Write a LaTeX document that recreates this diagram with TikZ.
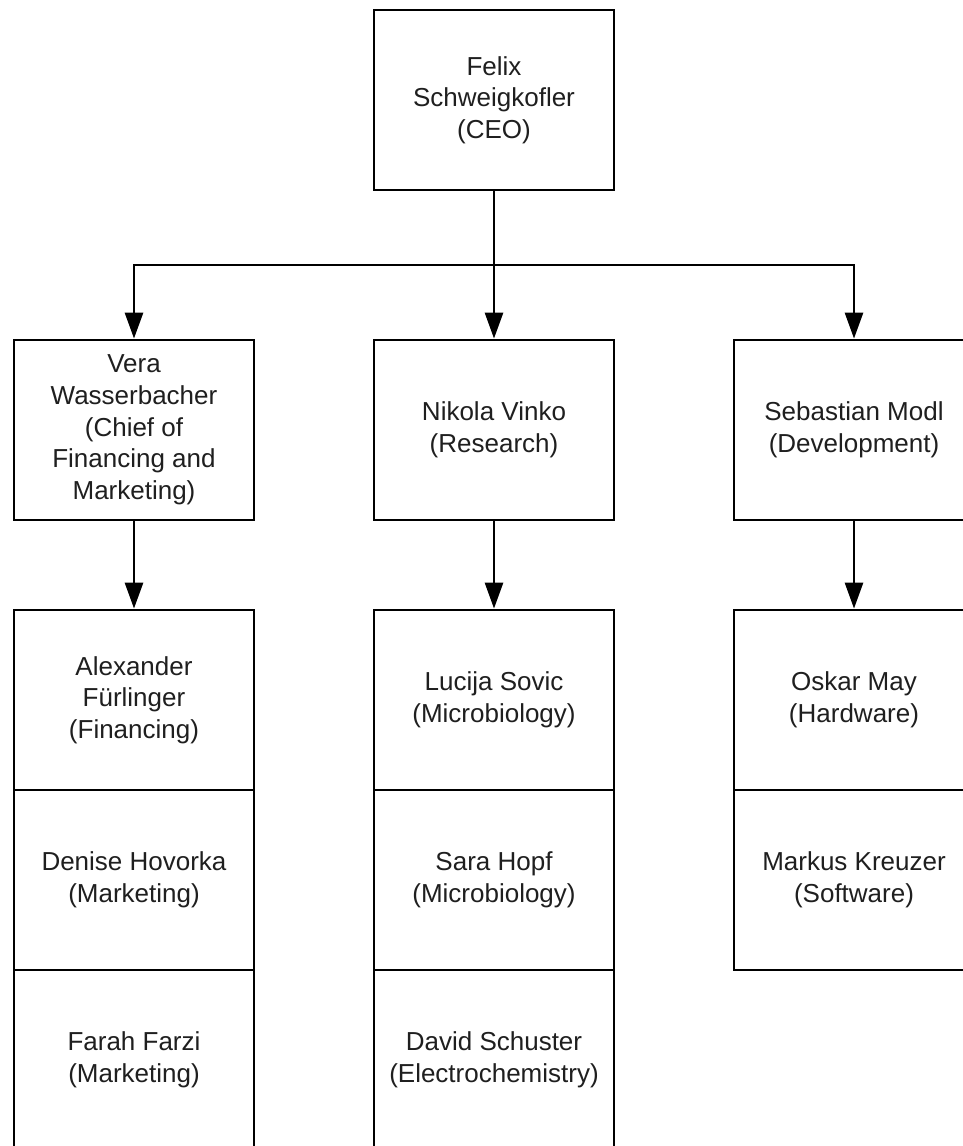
\documentclass[tikz,border=0pt]{standalone}
\usepackage{fontspec}
\setmainfont{Liberation Sans}
\usetikzlibrary{arrows.meta}
\begin{document}
\begin{tikzpicture}[x=1pt,y=-1pt,
  box/.style={draw, line width=2.8pt, minimum width=240pt, minimum height=180pt,
    align=center, inner sep=0pt, font=\fontsize{26}{31.7}\selectfont, text=black!88},
  arr/.style={line width=2.8pt, -{Triangle[length=26pt,width=18pt]}},
  con/.style={line width=2.8pt}]
\useasboundingbox[fill=white] (0,0) rectangle (962,1146);
% level 1
\node[box] (ceo) at (494,100) {Felix\\Schweigkofler\\(CEO)};
% level 2
\node[box] (vera) at (134,430) {Vera\\Wasserbacher\\(Chief of\\Financing and\\Marketing)};
\node[box] (nikola) at (494,430) {Nikola Vinko\\(Research)};
\node[box] (sebastian) at (854,430) {Sebastian Modl\\(Development)};
% level 3 left
\node[box] (alex) at (134,700) {Alexander\\Fürlinger\\(Financing)};
\node[box] (denise) at (134,880) {Denise Hovorka\\(Marketing)};
\node[box] (farah) at (134,1060) {Farah Farzi\\(Marketing)};
% level 3 middle
\node[box] (lucija) at (494,700) {Lucija Sovic\\(Microbiology)};
\node[box] (sara) at (494,880) {Sara Hopf\\(Microbiology)};
\node[box] (david) at (494,1060) {David Schuster\\(Electrochemistry)};
% level 3 right
\node[box] (oskar) at (854,700) {Oskar May\\(Hardware)};
\node[box] (markus) at (854,880) {Markus Kreuzer\\(Software)};
% connectors
\coordinate (j) at (494,265);
\draw[con] (ceo.south) -- (j);
\draw[arr] (j) -| (vera.north);
\draw[arr] (j) -- (nikola.north);
\draw[arr] (j) -| (sebastian.north);
\draw[arr] (vera.south) -- (alex.north);
\draw[arr] (nikola.south) -- (lucija.north);
\draw[arr] (sebastian.south) -- (oskar.north);
\end{tikzpicture}
\end{document}
